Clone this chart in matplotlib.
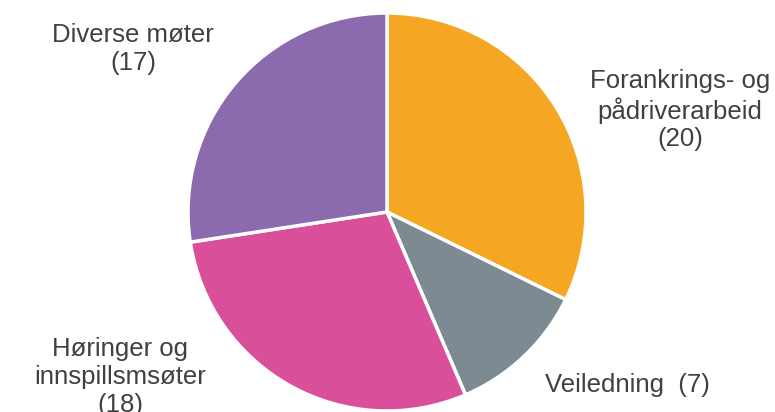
import matplotlib.pyplot as plt

labels = ['Forankrings- og\npådriverarbeid\n(20)', 'Veiledning  (7)',
          'Høringer og\ninnspillsmsøter\n(18)', 'Diverse møter\n(17)']
values = [20, 7, 18, 17]
colors = ['#F5A623', '#7D8A91', '#D94F9A', '#8B6BAE']
label_pos = [(680, 302), (627, 27), (120, 35), (133, 363)]

plt.rcParams['font.family'] = ['Liberation Sans', 'DejaVu Sans']

fig = plt.figure(figsize=(7.75, 4.12), dpi=100)
ax = fig.add_axes([0, 0, 1, 1])
ax.pie(values, colors=colors, startangle=90, counterclock=False,
       center=(387, 200), radius=199,
       wedgeprops={'edgecolor': 'white', 'linewidth': 2.5})
ax.set_xlim(0, 775)
ax.set_ylim(0, 412)
ax.set_aspect('equal')
ax.axis('off')

for lab, (x, y) in zip(labels, label_pos):
    ax.text(x, y, lab, ha='center', va='center', fontsize=18.5,
            color='#404040', linespacing=1.2)

fig.savefig('out.png', dpi=100)
